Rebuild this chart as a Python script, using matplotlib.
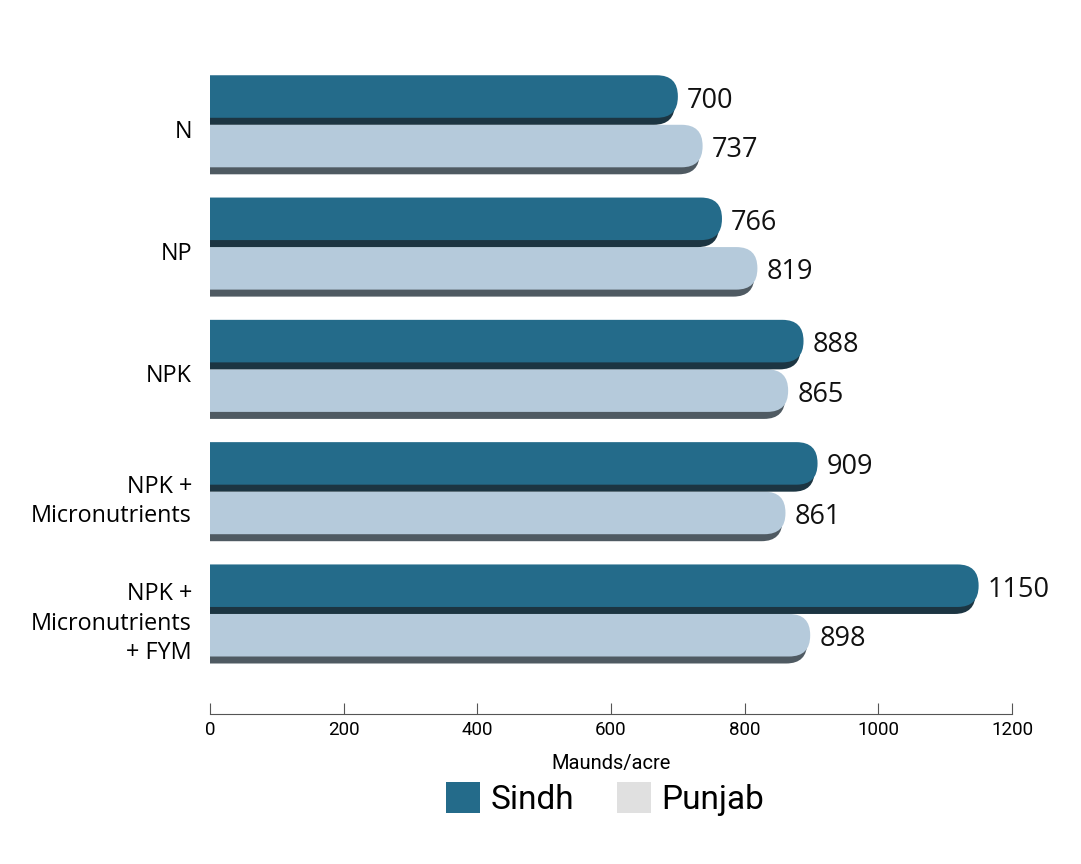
import matplotlib.pyplot as plt
import matplotlib.transforms as mtransforms
from matplotlib.patches import FancyBboxPatch, Patch

# yield of crop under fertilizer treatments, Sindh vs Punjab
categories = ['N', 'NP', 'NPK', 'NPK +\nMicronutrients', 'NPK +\nMicronutrients\n+ FYM']
sindh = [700, 766, 888, 909, 1150]
punjab = [737, 819, 865, 861, 898]

sindh_col = '#246b8a'
sindh_shadow = '#1c3542'
punjab_col = '#b5cadb'
punjab_shadow = '#4f5a62'

fig = plt.figure(figsize=(10.81, 8.64), dpi=100)
ax = fig.add_axes([0.1943, 0.1736, 0.7419, 0.757])
ax.set_xlim(0, 1200)
ax.set_ylim(4.818, -0.53)

# pixel to data conversion (for rounded caps)
px_x = 1200 / (0.7419 * 1081)
px_y = 5.348 / (0.757 * 864)
aspect = px_y / px_x
rad = 21 * px_x

slot = 0.405
shadow_h = 7 * px_y
main_h = slot - shadow_h


def draw_bar(val, top, col, shcol):
    # shadow first, shifted down and a bit to the left
    sh = FancyBboxPatch((-100, top + shadow_h), val + 100 - 3 * px_x, main_h,
                        boxstyle='round,pad=0,rounding_size=%f' % rad,
                        mutation_aspect=aspect, fc=shcol, ec='none', clip_on=True)
    ax.add_patch(sh)
    b = FancyBboxPatch((-100, top), val + 100, main_h,
                       boxstyle='round,pad=0,rounding_size=%f' % rad,
                       mutation_aspect=aspect, fc=col, ec='none', clip_on=True)
    ax.add_patch(b)
    ax.text(val + 9 * px_x, top + main_h / 2 + 4 * px_y, str(val), va='center', ha='left',
            fontsize=19.5, family='Open Sans', color='#111111')


for i in range(len(categories)):
    draw_bar(punjab[i], i, punjab_col, punjab_shadow)
    draw_bar(sindh[i], i - slot, sindh_col, sindh_shadow)

ax.set_yticks(range(len(categories)))
ax.set_yticklabels(categories, fontsize=16.8, family='Open Sans', linespacing=1.3)
ax.tick_params(axis='y', length=0, pad=13)
shift = mtransforms.ScaledTranslation(0, -4 / 100, fig.dpi_scale_trans)
for lab in ax.get_yticklabels():
    lab.set_transform(lab.get_transform() + shift)

ax.set_xticks([0, 200, 400, 600, 800, 1000, 1200])
ax.tick_params(axis='x', direction='in', length=8, color='#555555', labelsize=13.5, pad=5)
for lab in ax.get_xticklabels():
    lab.set_family('Roboto')
ax.set_xlabel('Maunds/acre', fontsize=14.5, family='Roboto', labelpad=11)

for s in ['top', 'right', 'left']:
    ax.spines[s].set_visible(False)
ax.spines['bottom'].set_color('#555555')

handles = [Patch(fc=sindh_col, ec='none', label='Sindh'),
           Patch(fc='#e0e0e0', ec='none', label='Punjab')]
fig.legend(handles=handles, loc='center', bbox_to_anchor=(0.5597, 1 - 799 / 864), ncol=2,
           frameon=False, prop={'family': 'Roboto', 'size': 24},
           handlelength=1.02, handleheight=1.05, handletextpad=0.3, columnspacing=1.3)

fig.savefig('out.png', dpi=100, facecolor='white')
